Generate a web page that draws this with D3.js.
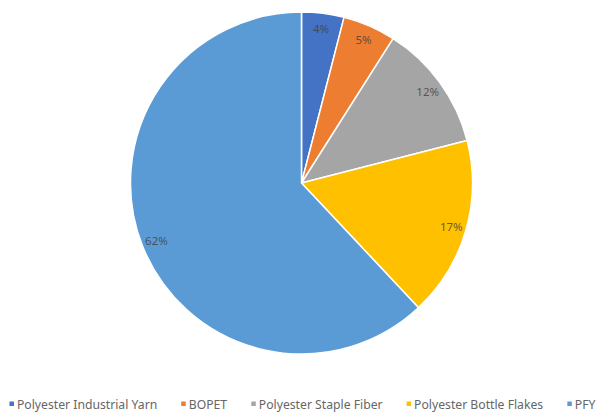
<!DOCTYPE html>
<html>
<head>
<meta charset="utf-8">
<script src="https://cdn.jsdelivr.net/npm/d3@7"></script>
<style>
  html, body { margin: 0; padding: 0; background: #ffffff; }
  svg { display: block; }
</style>
</head>
<body>
<svg id="chart" width="599" height="412"></svg>
<script>
// Share of polyester output by product
const categories = ["Polyester Industrial Yarn", "BOPET", "Polyester Staple Fiber", "Polyester Bottle Flakes", "PFY"];
const shares = [4, 5, 12, 17, 62];
const colors = ["#4472C4", "#ED7D31", "#A5A5A5", "#FFC000", "#5B9BD5"];

const svg = d3.select("#chart");
const W = 599, H = 412;
const cx = 301.5, cy = 183, radius = 171;

const data = categories.map((c, i) => ({ name: c, value: shares[i], color: colors[i] }));

const pie = d3.pie().value(d => d.value).sort(null);
const arcs = pie(data);
const arc = d3.arc().innerRadius(0).outerRadius(radius);
const labelArc = d3.arc().innerRadius(156).outerRadius(156);

const g = svg.append("g").attr("transform", `translate(${cx},${cy})`);

g.selectAll("path.slice")
  .data(arcs)
  .join("path")
  .attr("class", "slice")
  .attr("d", arc)
  .attr("fill", d => d.data.color)
  .attr("stroke", "#ffffff")
  .attr("stroke-width", 1.5)
  .attr("stroke-linejoin", "round");

g.selectAll("text.pct")
  .data(arcs)
  .join("text")
  .attr("class", "pct")
  .attr("transform", d => `translate(${labelArc.centroid(d)})`)
  .attr("text-anchor", "middle")
  .attr("dominant-baseline", "central")
  .attr("font-family", "'Noto Sans', sans-serif")
  .attr("font-size", 11.5)
  .attr("fill", "#404040")
  .attr("fill-opacity", 0.8)
  .text(d => d.data.value + "%");

// Legend along the bottom
const legend = svg.append("g").attr("font-family", "'Noto Sans', sans-serif").attr("font-size", 12.2);
const items = legend.selectAll("g.item").data(data).join("g").attr("class", "item");
items.append("rect")
  .attr("width", 4.5).attr("height", 4.5)
  .attr("y", -2.5)
  .attr("fill", d => d.color);
items.append("text")
  .attr("x", 7.5)
  .attr("dominant-baseline", "central")
  .attr("fill", "#666666")
  .text(d => d.name);

const gap = 24;
let x = 0;
const widths = [];
items.each(function () {
  widths.push(this.getBBox().width);
});
items.attr("transform", (d, i) => {
  const t = `translate(${x},0)`;
  x += widths[i] + gap;
  return t;
});
const total = x - gap;
legend.attr("transform", `translate(${(W + 6 - total) / 2},404)`);
</script>
</body>
</html>
